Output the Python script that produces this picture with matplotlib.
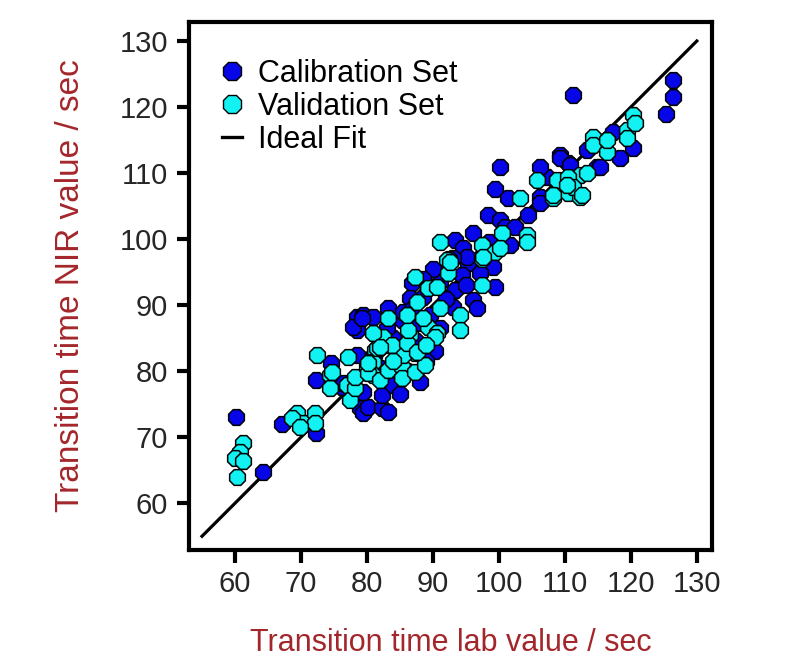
import matplotlib
matplotlib.use('Agg')
import matplotlib.pyplot as plt
from matplotlib.lines import Line2D

plt.rcParams['font.family'] = ['Liberation Sans', 'DejaVu Sans']

# Calibration set (lab value, NIR value)
cal_x = [60.2, 64.3, 67.1, 72.3, 72.3, 74.5, 76.2, 76.4, 78.5, 78.9, 79.4, 80.2,
         82.3, 83.2, 82.3, 79.4, 83.9, 88.0, 78.5, 79.4, 78.5, 80.9, 77.9, 79.2,
         83.2, 85.3, 88.0, 90.3, 86.8, 86.5, 88.5, 91.1, 93.3, 96.1, 96.7, 93.0,
         93.3, 96.1, 94.5, 95.3, 99.1, 94.4, 97.1, 99.4, 95.2, 93.0, 100.2, 99.4,
         101.4, 98.3, 100.2, 100.9, 101.7, 102.4, 104.4, 106.2, 106.2, 107.3, 106.2,
         109.2, 110.5, 113.3, 114.8, 109.2, 110.8, 111.2, 117.3, 118.3, 120.3, 115.3,
         125.3, 126.4, 126.4, 84.0, 85.5, 87.0, 89.5, 91.0, 92.0, 90.0, 92.5, 88.5,
         84.5, 86.0, 82.0, 81.0, 85.0, 87.5, 89.0, 83.0, 97.5, 98.5, 95.0]
cal_y = [73.0, 64.7, 72.0, 70.7, 78.6, 81.3, 77.6, 78.2, 82.4, 74.4, 73.6, 74.5,
         74.4, 73.8, 76.4, 76.8, 77.9, 78.3, 88.2, 88.5, 86.2, 88.2, 86.7, 88.0,
         89.5, 87.7, 87.3, 83.0, 93.3, 91.1, 91.2, 93.5, 92.3, 90.8, 89.5, 89.7,
         99.8, 100.9, 98.6, 96.4, 95.8, 94.5, 94.8, 92.7, 97.3, 97.1, 110.9, 107.6,
         106.2, 103.6, 102.9, 101.8, 99.1, 101.8, 103.6, 106.4, 105.5, 109.4, 110.9,
         112.7, 111.5, 113.5, 110.9, 112.3, 111.2, 121.8, 116.2, 112.3, 113.8, 110.9,
         118.9, 124.1, 121.5, 85.0, 89.0, 89.5, 88.5, 86.5, 91.0, 95.5, 97.0, 94.0,
         82.0, 80.0, 80.5, 82.5, 76.5, 84.5, 81.5, 86.5, 97.5, 99.5, 93.0]

# Validation set (lab value, NIR value)
val_x = [61.2, 60.8, 60.0, 61.2, 60.3, 69.4, 70.3, 72.1, 72.1, 68.6, 69.8, 72.4,
         74.4, 74.4, 77.1, 77.0, 77.4, 78.2, 78.2, 80.0, 81.2, 80.9, 80.9, 80.2,
         80.2, 82.0, 83.2, 83.2, 85.3, 85.3, 87.3, 87.3, 85.5, 86.5, 88.8, 81.5,
         74.7, 82.4, 80.9, 83.8, 86.1, 87.6, 82.0, 83.2, 86.2, 89.2, 90.6, 90.3,
         87.3, 89.2, 90.6, 87.6, 91.1, 94.1, 94.1, 91.1, 97.4, 99.4, 92.1, 97.4,
         92.3, 97.4, 100.5, 104.2, 104.2, 100.2, 97.6, 92.6, 103.2, 105.8, 108.2,
         110.5, 112.3, 112.3, 113.3, 108.8, 110.5, 111.2, 108.2, 112.6, 110.3, 114.2,
         114.2, 116.4, 116.4, 119.4, 119.4, 120.3, 120.6, 84.0, 86.0, 88.5, 89.0]
val_y = [69.1, 67.7, 66.8, 66.4, 63.9, 73.6, 72.1, 73.6, 72.1, 72.9, 71.5, 82.4,
         79.4, 77.4, 82.1, 77.9, 75.6, 77.4, 79.1, 80.6, 83.2, 81.4, 79.4, 79.7,
         81.2, 78.6, 80.2, 83.9, 80.6, 78.9, 79.8, 82.7, 82.4, 85.5, 80.9, 83.5,
         79.8, 85.2, 85.8, 83.9, 84.2, 82.9, 83.6, 88.0, 86.2, 86.7, 85.8, 85.2,
         94.2, 92.6, 92.7, 90.5, 89.5, 88.5, 86.2, 99.5, 99.1, 98.0, 96.8, 97.0,
         94.8, 93.0, 100.9, 100.6, 99.5, 98.6, 97.3, 96.5, 106.2, 108.9, 106.2,
         107.0, 106.4, 109.7, 110.0, 108.9, 109.4, 107.9, 106.7, 106.7, 108.2, 115.5,
         114.2, 113.2, 115.0, 116.5, 115.3, 118.8, 117.6, 81.5, 88.5, 88.0, 84.0]

fit_x = [55, 130]

blue = '#0606e8'
cyan = '#12f2f2'
label_red = '#a3262a'

fig = plt.figure(figsize=(8, 6.62), dpi=100)
ax = fig.add_axes([0.236, 0.169, 0.654, 0.798])

ax.plot(fit_x, fit_x, color='black', linewidth=2.3, zorder=1)
ax.scatter(cal_x, cal_y, s=150, marker='8', color=blue, edgecolors='black',
           linewidths=1.1, zorder=2)
ax.scatter(val_x, val_y, s=150, marker='8', color=cyan, edgecolors='black',
           linewidths=1.1, zorder=3)

ax.set_xlim(53.0, 132.3)
ax.set_ylim(52.9, 132.9)
ticks = [60, 70, 80, 90, 100, 110, 120, 130]
ax.set_xticks(ticks)
ax.set_yticks(ticks)
ax.tick_params(axis='both', direction='out', length=9, width=3, labelsize=21,
               colors='black', labelcolor='#262626')
ax.tick_params(axis='y', pad=6)
ax.tick_params(axis='x', pad=5)
for sp in ax.spines.values():
    sp.set_linewidth(3)

ax.set_xlabel('Transition time lab value / sec', fontsize=22, color=label_red,
              labelpad=22)
ax.set_ylabel('Transition time NIR value / sec', fontsize=24, color=label_red,
              labelpad=24)

handles = [
    Line2D([], [], linestyle='none', marker='8', markersize=14,
           markerfacecolor=blue, markeredgecolor='black', markeredgewidth=1.0),
    Line2D([], [], linestyle='none', marker='8', markersize=14,
           markerfacecolor=cyan, markeredgecolor='black', markeredgewidth=1.0),
    Line2D([], [], color='black', linewidth=2.4),
]
ax.legend(handles, ['Calibration Set', 'Validation Set', 'Ideal Fit'],
          loc='upper left', bbox_to_anchor=(0.063, 0.93), frameon=False,
          fontsize=22, handlelength=0.65, handletextpad=0.52, labelspacing=0.1,
          borderaxespad=0.0, borderpad=0.0)

fig.savefig('out.png', dpi=100, facecolor='white')
